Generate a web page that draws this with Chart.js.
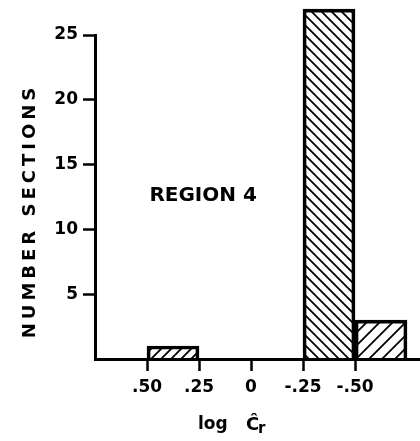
<!DOCTYPE html>
<html>
<head>
<meta charset="utf-8">
<script src="https://cdn.jsdelivr.net/npm/chart.js@4/dist/chart.umd.min.js"></script>
<style>
html,body{margin:0;padding:0;background:#fff;}
canvas{display:block;}
</style>
</head>
<body>
<canvas id="c" width="420" height="441"></canvas>
<script>
// ---- data ----
const binStarts = [0.50, -0.25, -0.50];
const binEnds = [0.25, -0.50, -0.75];
const sectionCounts = [1, 27, 3];
const hatchDirections = ['/', '\\', '/'];
const xTickValues = [0.50, 0.25, 0, -0.25, -0.50];
const xTickLabels = ['.50', '.25', '0', '-.25', '-.50'];
const yTickValues = [5, 10, 15, 20, 25];
const yTickLabels = ['5', '10', '15', '20', '25'];
const yTitle = 'NUMBER SECTIONS';
const xTitleMain = 'log';
const xTitleSymbol = 'Ĉ';
const xTitleSub = 'r';
const regionLabel = 'REGION 4';

// ---- hatch patterns ----
function hatch(size, dir, lw) {
  const c = document.createElement('canvas');
  c.width = size; c.height = size;
  const g = c.getContext('2d');
  g.strokeStyle = '#000';
  g.lineWidth = lw;
  g.beginPath();
  if (dir === '/') {
    g.moveTo(-1, size + 1); g.lineTo(size + 1, -1);
    g.moveTo(-2, 2); g.lineTo(2, -2);
    g.moveTo(size - 2, size + 2); g.lineTo(size + 2, size - 2);
  } else {
    g.moveTo(-1, -1); g.lineTo(size + 1, size + 1);
    g.moveTo(-2, size - 2); g.lineTo(2, size + 2);
    g.moveTo(size - 2, -2); g.lineTo(size + 2, 2);
  }
  g.stroke();
  return g.createPattern(c, 'repeat');
}
const patternSizes = [10, 10, 13];
const fills = hatchDirections.map((d, i) => hatch(patternSizes[i], d, 1.8));

const barData = binStarts.map((s, i) => ({ x: (s + binEnds[i]) / 2, y: sectionCounts[i] }));

const FONT = 'DejaVu Sans';

const textPlugin = {
  id: 'texts',
  afterDraw(chart) {
    const { ctx, scales: { x, y } } = chart;
    ctx.save();
    ctx.fillStyle = '#000';
    // y axis title
    ctx.save();
    ctx.font = 'bold 18px "' + FONT + '"';
    try { ctx.letterSpacing = '4px'; } catch (e) {}
    ctx.translate(35, 213);
    ctx.rotate(-Math.PI / 2);
    ctx.textAlign = 'center';
    ctx.textBaseline = 'alphabetic';
    ctx.fillText(yTitle, 2, 0);
    ctx.restore();
    // region label
    ctx.font = 'bold 20px "' + FONT + '"';
    ctx.textAlign = 'center';
    ctx.textBaseline = 'alphabetic';
    ctx.fillText(regionLabel, x.getPixelForValue(0.23), y.getPixelForValue(12.2));
    // x axis title
    ctx.textAlign = 'left';
    ctx.font = 'bold 17px "' + FONT + '"';
    ctx.fillText(xTitleMain, 198, 429);
    ctx.font = 'bold 18px "' + FONT + '"';
    ctx.fillText(xTitleSymbol, 246, 430);
    ctx.font = 'bold 15px "' + FONT + '"';
    ctx.fillText(xTitleSub, 258, 433);
    ctx.restore();
  }
};

new Chart(document.getElementById('c'), {
  type: 'bar',
  data: {
    datasets: [{
      data: barData,
      backgroundColor: fills,
      borderColor: '#000',
      borderWidth: 3,
      borderSkipped: 'start',
      barPercentage: 1,
      categoryPercentage: 1,
      clip: false
    }]
  },
  options: {
    responsive: false,
    animation: false,
    devicePixelRatio: 1,
    layout: { padding: { top: 35, left: 0, right: 0, bottom: 0 } },
    plugins: { legend: { display: false }, tooltip: { enabled: false } },
    scales: {
      x: {
        type: 'linear',
        reverse: true,
        min: -0.8125,
        max: 0.75,
        offset: false,
        afterBuildTicks: s => { s.ticks = xTickValues.map(v => ({ value: v })); },
        afterFit: s => { s.height = 82; },
        grid: { offset: false, drawOnChartArea: false, drawTicks: true, tickLength: 12, tickWidth: 2.5, tickColor: '#000', color: '#000' },
        border: { display: true, color: '#000', width: 3 },
        ticks: {
          autoSkip: false, maxRotation: 0, minRotation: 0, padding: 6, color: '#000',
          font: { family: FONT, size: 17, weight: 'bold' },
          callback: (v, i) => xTickLabels[i]
        }
      },
      y: {
        min: 0,
        max: 25,
        afterBuildTicks: s => { s.ticks = yTickValues.map(v => ({ value: v })); },
        afterFit: s => { s.width = 95; },
        grid: { drawOnChartArea: false, drawTicks: true, tickLength: 12, tickWidth: 2.5, tickColor: '#000', color: '#000' },
        border: { display: true, color: '#000', width: 3 },
        ticks: {
          padding: 5, color: '#000',
          font: { family: FONT, size: 17, weight: 'bold' },
          callback: (v, i) => yTickLabels[i]
        }
      }
    }
  },
  plugins: [textPlugin]
});
</script>
</body>
</html>
